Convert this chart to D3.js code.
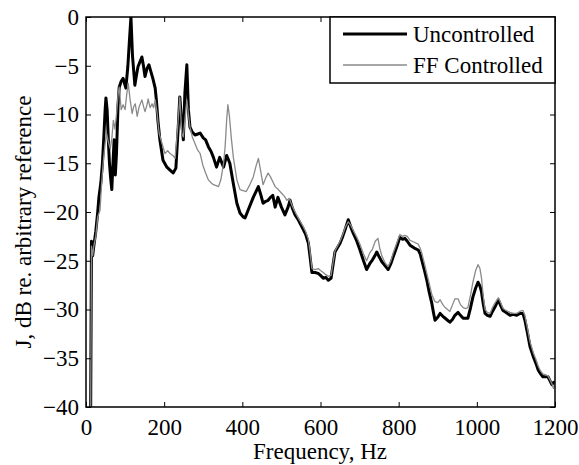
<!DOCTYPE html>
<html><head><meta charset="utf-8">
<script src="https://cdn.jsdelivr.net/npm/d3@7"></script>
<style>body{margin:0;background:#fff}svg{display:block}text{font-family:"Liberation Serif","Times New Roman",serif;fill:#000}</style>
</head><body>
<script>
const xTicks = [0,200,400,600,800,1000,1200];
const yTicks = [0,-5,-10,-15,-20,-25,-30,-35,-40];
const seriesNames = ["Uncontrolled","FF Controlled"];
const uncontrolled = [[10,-42],[12,-40],[14,-23],[17,-24.5],[20,-23.5],[25,-22],[30,-20],[33,-18.5],[38,-17],[42,-15],[46,-12],[49,-9.5],[51,-8.3],[54,-9.5],[57,-12.5],[60,-15],[63,-16.5],[66,-17.7],[69,-15],[72,-12.6],[75,-16.2],[78,-14],[82,-9],[85,-7.2],[90,-6.6],[95,-6.3],[102,-7.3],[107,-5.1],[111,-2.5],[115,0],[119,-4],[125,-7],[129,-6],[133,-5.1],[138,-4.6],[143,-4.1],[147,-5],[151,-6.1],[156,-5.3],[161,-4.9],[166,-5.6],[171,-6.3],[177,-7.3],[180,-8.5],[184,-10.6],[189,-12.6],[197,-14.7],[207,-15.4],[215,-15.7],[223,-16],[230,-15.5],[236,-11.3],[240,-8.2],[245,-10.9],[249,-12.6],[253,-7.8],[258,-4.9],[262,-9.5],[266,-11.3],[272,-11.8],[279,-12.1],[286,-12],[292,-11.9],[300,-12.4],[306,-12.6],[313,-13.3],[320,-13.8],[326,-14.4],[334,-15.4],[342,-14.4],[352,-15.4],[360,-14.2],[368,-15],[377,-17.1],[386,-19.1],[394,-20.1],[402,-20.5],[407,-20.6],[415,-19.8],[428,-18.5],[441,-17.4],[447,-18.2],[453,-19.1],[460,-18.9],[466,-18.8],[472,-18.5],[478,-18.3],[484,-19.5],[491,-18.5],[500,-19.5],[509,-20.3],[517,-19.5],[522,-18.8],[528,-19.6],[535,-20.3],[543,-20.8],[556,-21.8],[562,-22.3],[569,-23.2],[573,-24.5],[578,-26.2],[586,-26.2],[594,-26.3],[600,-26.5],[607,-26.8],[613,-26.7],[620,-27],[627,-26.8],[637,-24.1],[650,-23.2],[657,-22.5],[663,-21.8],[671,-20.8],[678,-21.6],[684,-22.2],[693,-23],[701,-23.9],[710,-25],[718,-25.9],[726,-25.3],[733,-24.9],[739,-24.5],[744,-24.1],[750,-24.6],[757,-25.1],[765,-25.5],[773,-25.9],[780,-25.3],[786,-24.6],[795,-23.6],[803,-22.6],[810,-22.8],[816,-22.7],[822,-23],[829,-23.4],[840,-23.7],[850,-23.9],[855,-24.3],[859,-24.9],[866,-26],[872,-27],[878,-28.2],[885,-29.4],[889,-30.3],[893,-31.1],[900,-30.8],[906,-30.4],[913,-30.7],[919,-30.9],[925,-31.1],[931,-31.3],[938,-31],[944,-30.6],[952,-30.3],[958,-30.6],[965,-30.9],[971,-30.9],[977,-30.9],[984,-29.8],[990,-28.7],[997,-27.8],[1003,-27.2],[1008,-27.6],[1012,-28.2],[1016,-29.3],[1021,-30.4],[1027,-30.6],[1034,-30.7],[1040,-30.2],[1047,-29.7],[1055,-29],[1061,-29.6],[1067,-30.1],[1075,-30.3],[1085,-30.6],[1093,-30.5],[1102,-30.6],[1110,-30.4],[1118,-30.4],[1123,-31.1],[1130,-32.5],[1136,-33.8],[1145,-34.9],[1151,-35.5],[1157,-36.2],[1163,-36.6],[1169,-36.9],[1176,-36.9],[1182,-36.9],[1187,-37.3],[1192,-37.7],[1196,-37.5],[1200,-37.4]];
const ffControlled = [[10,-42],[12,-40],[14,-23.5],[17,-24.5],[20,-23.5],[25,-22.5],[30,-20.5],[36,-19.8],[40,-17],[45,-14.5],[50,-12.6],[53,-12],[57,-12.8],[62,-13.5],[66,-12.5],[70,-10.6],[74,-11.5],[78,-10],[82,-8],[85,-7.2],[90,-9.5],[95,-9],[100,-9.5],[104,-8],[108,-6.8],[113,-8.5],[118,-9.9],[122,-9.2],[126,-8.9],[131,-10.2],[136,-9.2],[143,-8.5],[148,-9.3],[151,-9.7],[156,-9],[159,-8.4],[164,-9.3],[169,-8.9],[173,-9.3],[177,-8.5],[182,-9.9],[187,-11.9],[194,-12.9],[202,-14],[209,-13.7],[215,-14],[222,-14.2],[228,-14.5],[234,-11.6],[240,-8.2],[245,-11.9],[249,-12.3],[253,-10.6],[258,-8.5],[262,-10],[266,-11.3],[272,-12.3],[279,-13],[285,-13.6],[292,-14],[299,-15.2],[306,-16],[313,-16.7],[320,-17],[326,-17.2],[333,-17.3],[339,-17.4],[345,-16.7],[352,-15],[356,-13.3],[360,-10.5],[363,-9],[367,-10.2],[372,-12.5],[377,-14.4],[386,-16.7],[394,-17.7],[402,-17.8],[410,-17.9],[418,-17.3],[428,-16.4],[435,-15.3],[441,-14.5],[447,-15.8],[453,-17.2],[460,-16.5],[466,-16],[472,-16.4],[478,-16.9],[484,-17.4],[492,-17.7],[501,-18.1],[508,-18.4],[514,-18.8],[520,-18.6],[528,-19.4],[535,-20],[543,-20.6],[556,-21.5],[562,-22],[569,-22.8],[573,-24],[578,-25.8],[586,-25.9],[594,-25.8],[600,-26],[607,-26.2],[613,-26.4],[620,-26.6],[627,-26.5],[637,-24],[650,-23],[657,-22.3],[663,-21.6],[671,-21],[678,-21.4],[684,-21.9],[693,-22.6],[701,-23.3],[710,-24.3],[718,-25],[726,-24.2],[733,-23.8],[740,-23],[747,-22.7],[752,-23.8],[757,-24.5],[765,-25.2],[773,-25.6],[780,-25],[786,-24.2],[795,-23.2],[803,-22.3],[810,-22.5],[816,-22.4],[822,-22.5],[829,-22.9],[840,-23.1],[850,-23.3],[855,-23.7],[859,-24.2],[866,-25.3],[872,-26.3],[878,-27.3],[885,-28.5],[893,-29.2],[900,-29.3],[906,-29],[913,-29.5],[919,-29.8],[925,-30],[931,-30.2],[938,-29.5],[944,-28.9],[952,-28.9],[958,-29.5],[965,-29.8],[971,-29.9],[977,-29.8],[984,-28.5],[990,-27.2],[997,-26],[1003,-25.4],[1008,-25.8],[1012,-26.8],[1016,-28.5],[1021,-30],[1027,-30.3],[1034,-30.4],[1040,-29.8],[1047,-29.3],[1055,-28.8],[1061,-29.3],[1067,-29.9],[1075,-30.1],[1085,-30.3],[1093,-30.4],[1102,-30.4],[1110,-30.2],[1118,-30.1],[1123,-30.6],[1130,-32],[1136,-33.3],[1145,-34.5],[1151,-35.1],[1157,-35.8],[1163,-36.3],[1169,-36.6],[1176,-36.7],[1182,-36.8],[1187,-37.2],[1192,-37.6],[1196,-38.1],[1200,-37.6]];

const W = 579, H = 465;
const L = 86, R = 555, T = 17, B = 407;
const FS = 23;

const svg = d3.select("body").append("svg").attr("width", W).attr("height", H);
const x = d3.scaleLinear().domain([0, 1200]).range([L, R]);
const y = d3.scaleLinear().domain([-40, 0]).range([B, T]);

svg.append("defs").append("clipPath").attr("id","clip")
  .append("rect").attr("x", L).attr("y", T).attr("width", R-L).attr("height", B-T);

const line = d3.line().x(d => x(d[0])).y(d => y(d[1]));
const g = svg.append("g").attr("clip-path","url(#clip)");
g.append("path").datum(uncontrolled).attr("d", line).attr("fill","none")
  .attr("stroke","#000").attr("stroke-width",3).attr("stroke-linejoin","round");
g.append("path").datum(ffControlled).attr("d", line).attr("fill","none")
  .attr("stroke","#8a8a8a").attr("stroke-width",1.3).attr("stroke-linejoin","round");

const fmt = d3.format("");
const axB = svg.append("g").attr("transform",`translate(0,${B})`)
  .call(d3.axisBottom(x).tickValues(xTicks).tickSizeInner(-5).tickSizeOuter(0).tickFormat(fmt));
const axT = svg.append("g").attr("transform",`translate(0,${T})`)
  .call(d3.axisTop(x).tickValues(xTicks).tickSizeInner(-5).tickSizeOuter(0).tickFormat(""));
const axL = svg.append("g").attr("transform",`translate(${L},0)`)
  .call(d3.axisLeft(y).tickValues(yTicks).tickSizeInner(-5).tickSizeOuter(0).tickPadding(7).tickFormat(fmt));
const axR = svg.append("g").attr("transform",`translate(${R},0)`)
  .call(d3.axisRight(y).tickValues(yTicks).tickSizeInner(-5).tickSizeOuter(0).tickFormat(""));
[axB, axT, axL, axR].forEach(a => {
  a.select(".domain").remove();
  a.selectAll(".tick line").attr("stroke","#000").attr("stroke-width",1);
  a.selectAll("text").attr("font-size", FS).attr("font-family","Liberation Serif").attr("fill","#000");
});
axB.selectAll("text").attr("y", 28).attr("dy", 0);

svg.append("rect").attr("x", L).attr("y", T).attr("width", R-L).attr("height", B-T)
  .attr("fill","none").attr("stroke","#000").attr("stroke-width",1.5);

svg.append("text").attr("x", 320).attr("y", 459).attr("text-anchor","middle")
  .attr("font-size", FS).text("Frequency, Hz");
svg.append("text").attr("transform","translate(31,222) rotate(-90)").attr("text-anchor","middle")
  .attr("font-size", FS).text("J, dB re. arbitrary reference");

const lg = svg.append("g");
lg.append("rect").attr("x", 330).attr("y", T).attr("width", R-330).attr("height", 66)
  .attr("fill","#fff").attr("stroke","#000").attr("stroke-width",1.5);
const legendStyles = [{c:"#000", w:3, y:34}, {c:"#8a8a8a", w:1.3, y:65}];
seriesNames.forEach((name, i) => {
  const s = legendStyles[i];
  lg.append("line").attr("x1",343).attr("x2",407).attr("y1",s.y).attr("y2",s.y)
    .attr("stroke",s.c).attr("stroke-width",s.w);
  lg.append("text").attr("x",413).attr("y",s.y+8).attr("font-size",FS).text(name);
});
</script>
</body></html>
